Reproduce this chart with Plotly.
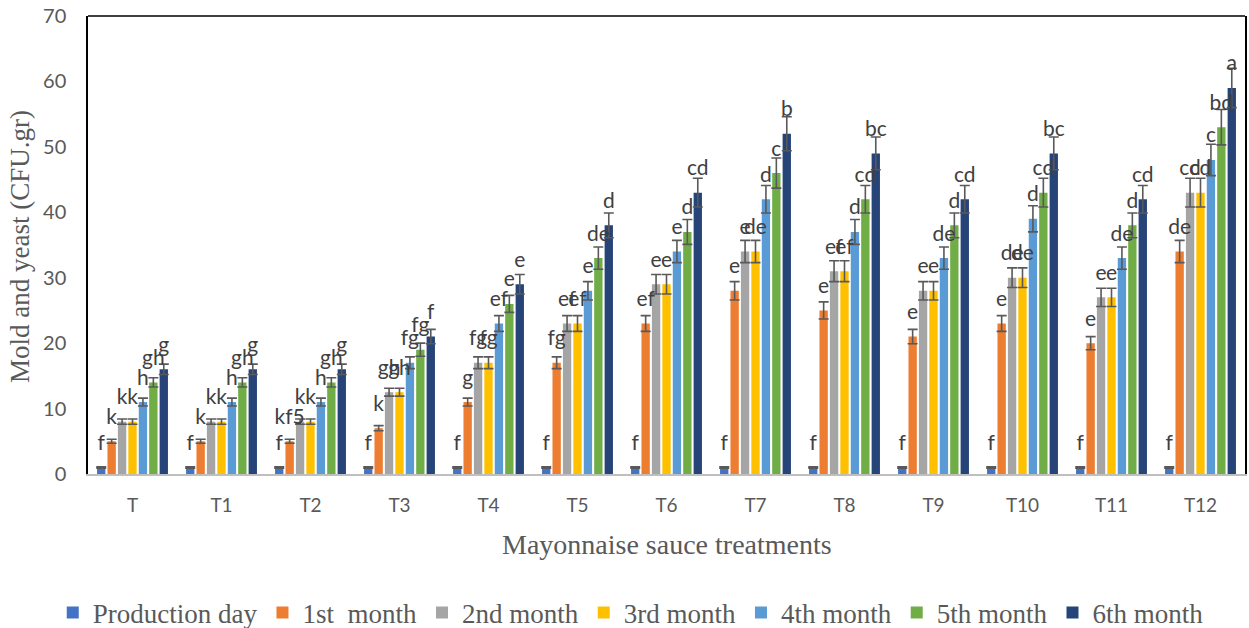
import plotly.graph_objects as go

treatments = ["T", "T1", "T2", "T3", "T4", "T5", "T6", "T7", "T8", "T9", "T10", "T11", "T12"]
series_names = ["Production day", "1st\u00a0 month", "2nd month", "3rd month", "4th month", "5th month", "6th month"]
colors = ["#4472C4", "#ED7D31", "#A5A5A5", "#FFC000", "#5B9BD5", "#70AD47", "#264478"]

production_day = [1, 1, 1, 1, 1, 1, 1, 1, 1, 1, 1, 1, 1]
month_1 = [5, 5, 5, 7, 11, 17, 23, 28, 25, 21, 23, 20, 34]
month_2 = [8, 8, 8, 12.5, 17, 23, 29, 34, 31, 28, 30, 27, 43]
month_3 = [8, 8, 8, 12.5, 17, 23, 29, 34, 31, 28, 30, 27, 43]
month_4 = [11, 11, 11, 17, 23, 28, 34, 42, 37, 33, 39, 33, 48]
month_5 = [14, 14, 14, 19, 26, 33, 37, 46, 42, 38, 43, 38, 53]
month_6 = [16, 16, 16, 21, 29, 38, 43, 52, 49, 42, 49, 42, 59]

err_production_day = [0.1, 0.1, 0.1, 0.1, 0.1, 0.1, 0.1, 0.1, 0.1, 0.1, 0.1, 0.1, 0.1]
err_month_1 = [0.3, 0.3, 0.3, 0.4, 0.6, 0.9, 1.2, 1.4, 1.3, 1.1, 1.2, 1.0, 1.7]
err_month_2 = [0.4, 0.4, 0.4, 0.6, 0.9, 1.2, 1.5, 1.7, 1.6, 1.4, 1.5, 1.4, 2.2]
err_month_3 = [0.4, 0.4, 0.4, 0.6, 0.9, 1.2, 1.5, 1.7, 1.6, 1.4, 1.5, 1.4, 2.2]
err_month_4 = [0.6, 0.6, 0.6, 0.9, 1.2, 1.4, 1.7, 2.1, 1.9, 1.7, 2.0, 1.7, 2.4]
err_month_5 = [0.7, 0.7, 0.7, 1.0, 1.3, 1.7, 1.9, 2.3, 2.1, 1.9, 2.2, 1.9, 2.7]
err_month_6 = [0.8, 0.8, 0.8, 1.1, 1.5, 1.9, 2.2, 2.6, 2.5, 2.1, 2.5, 2.1, 3.0]

lbl_production_day = ["f"] * 13
lbl_month_1 = ["k", "k", "kf5", "k", "g", "fg", "ef", "e", "e", "e", "e", "e", "de"]
lbl_month_2 = ["k", "k", "k", "gh", "fg", "ef", "e", "e", "ef", "e", "de", "e", "cd"]
lbl_month_3 = ["k", "k", "k", "gh", "fg", "ef", "e", "de", "ef", "e", "de", "e", "cd"]
lbl_month_4 = ["h", "h", "h", "fg", "ef", "e", "e", "d", "d", "de", "d", "de", "c"]
lbl_month_5 = ["gh", "gh", "gh", "fg", "e", "de", "d", "c", "cd", "d", "cd", "d", "bd"]
lbl_month_6 = ["g", "g", "g", "f", "e", "d", "cd", "b", "bc", "cd", "bc", "cd", "a"]

values = [production_day, month_1, month_2, month_3, month_4, month_5, month_6]
errors = [err_production_day, err_month_1, err_month_2, err_month_3, err_month_4, err_month_5, err_month_6]
labels = [lbl_production_day, lbl_month_1, lbl_month_2, lbl_month_3, lbl_month_4, lbl_month_5, lbl_month_6]

fig = go.Figure()
for name, col, v, e in zip(series_names, colors, values, errors):
    fig.add_trace(go.Bar(
        x=treatments, y=v, name=name, marker=dict(color=col, line=dict(width=0)),
        error_y=dict(type="data", array=e, color="#595959", thickness=1.6, width=5),
    ))
for name, v, l in zip(series_names, values, labels):
    fig.add_trace(go.Scatter(
        x=treatments, y=v, mode="markers+text", text=l, textposition="top center",
        marker=dict(size=18, color="rgba(0,0,0,0)", line=dict(width=0)),
        textfont=dict(family="Lato", size=21, color="#404040"),
        showlegend=False, hoverinfo="skip", cliponaxis=False,
    ))

fig.update_layout(
    width=1249, height=628,
    margin=dict(l=88, r=2, t=16, b=154),
    paper_bgcolor="white", plot_bgcolor="white",
    barmode="group", bargap=0.18, bargroupgap=0.2,
    scattermode="group", scattergap=0.18,
    showlegend=True,
    legend=dict(orientation="h", xref="container", yref="container", x=0.505, y=0.024,
                xanchor="center", yanchor="middle", itemwidth=30,
                font=dict(family="Liberation Serif", size=27, color="#595959"),
                traceorder="normal"),
    xaxis=dict(showline=True, linecolor="#BFBFBF", linewidth=1.5, showgrid=False,
               ticks="", tickfont=dict(family="Lato", size=19, color="#595959"),
               ticklabelstandoff=13),
    yaxis=dict(range=[0, 70], dtick=10, showgrid=False, zeroline=False,
               showline=True, linecolor="black", linewidth=1.5, mirror=True,
               ticks="", tickfont=dict(family="Lato", size=20, color="#595959"),
               ticklabelstandoff=16),
    shapes=[dict(type="line", xref="paper", yref="paper", x0=0, x1=1, y0=1, y1=1,
                 line=dict(color="black", width=1.5))],
    annotations=[
        dict(text="Mayonnaise sauce treatments", xref="paper", yref="paper", x=0.5, y=-0.155,
             xanchor="center", yanchor="middle", showarrow=False,
             font=dict(family="Liberation Serif", size=28, color="#595959")),
        dict(text="Mold and yeast (CFU.gr)", xref="paper", yref="paper", x=-0.0586, y=0.496,
             xanchor="center", yanchor="middle", showarrow=False, textangle=-90,
             font=dict(family="Liberation Serif", size=27, color="#595959")),
    ],
)

fig.write_html("out.html", config={"displayModeBar": False},
               post_script="document.body.style.margin='0px';document.body.style.overflow='hidden';")
